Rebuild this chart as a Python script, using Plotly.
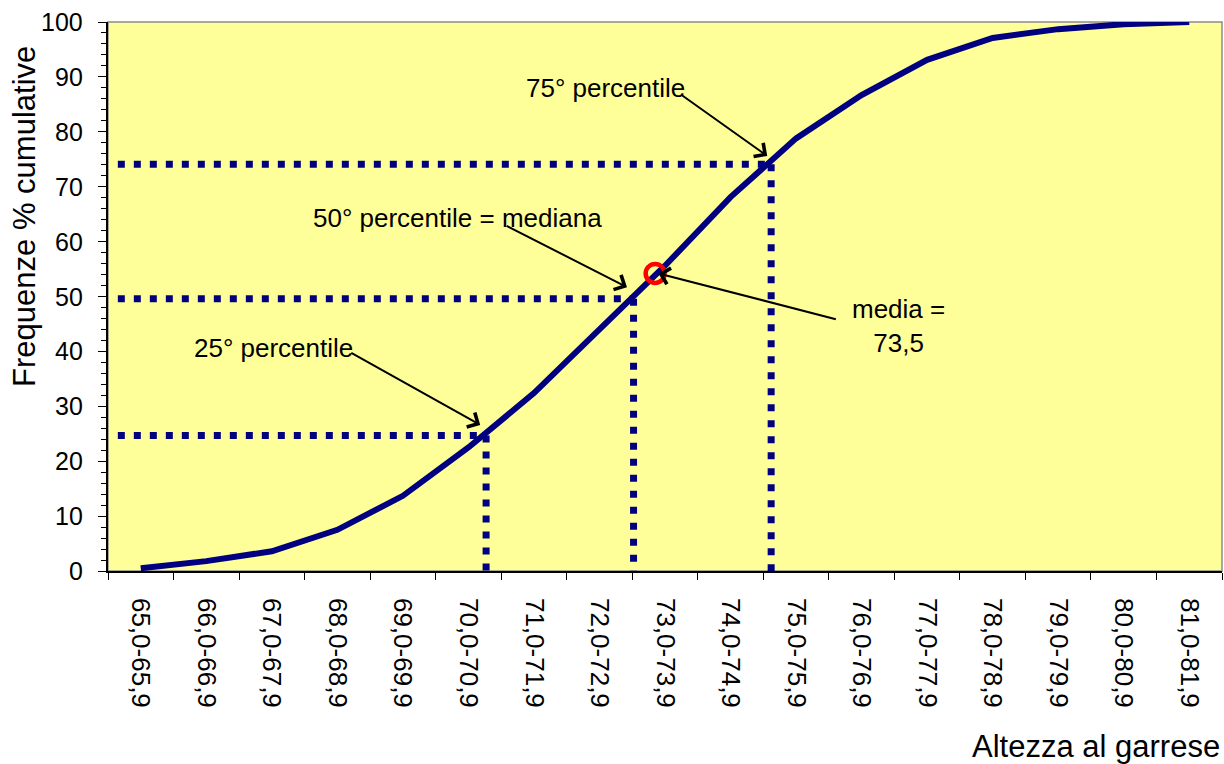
import plotly.graph_objects as go

# ---- data ----
categories = ["65,0-65,9", "66,0-66,9", "67,0-67,9", "68,0-68,9", "69,0-69,9",
              "70,0-70,9", "71,0-71,9", "72,0-72,9", "73,0-73,9", "74,0-74,9",
              "75,0-75,9", "76,0-76,9", "77,0-77,9", "78,0-78,9", "79,0-79,9",
              "80,0-80,9", "81,0-81,9"]
cum_freq = [0.5, 1.8, 3.6, 7.5, 13.7, 22.5, 32.4, 43.9, 55.6, 68.1,
            78.8, 86.7, 93.1, 97.1, 98.7, 99.6, 100.0]

percentile_levels = [24.7, 49.6, 74.1]          # y of dotted guides
percentile_pos = [5.27, 7.52, 9.62]              # category-index position where they meet the curve
guide_start = -0.35

mean_pos = 7.85
mean_val = 54.2

y_ticks = list(range(0, 101, 10))
y_tick_labels = [str(v) for v in y_ticks]

NAVY = "#000080"
FONT = "Liberation Sans, Arial, sans-serif"

fig = go.Figure()

fig.add_trace(go.Scatter(
    x=categories, y=cum_freq, mode="lines",
    line=dict(color=NAVY, width=6), showlegend=False, hoverinfo="skip"))

# dotted guide lines
for lvl, pos in zip(percentile_levels, percentile_pos):
    fig.add_shape(type="line", xref="x", yref="y", x0=guide_start, x1=pos, y0=lvl, y1=lvl,
                  line=dict(color=NAVY, width=7, dash="7px,9px"), layer="above")
    fig.add_shape(type="line", xref="x", yref="y", x0=pos, x1=pos, y0=lvl, y1=0,
                  line=dict(color=NAVY, width=7, dash="7px,9px"), layer="above")

# mean marker (red ring)
fig.add_shape(type="circle", xref="x", yref="y", xsizemode="pixel", ysizemode="pixel",
              xanchor=mean_pos, yanchor=mean_val, x0=-9.5, x1=9.5, y0=-9.5, y1=9.5,
              line=dict(color="#FF0000", width=4.5), fillcolor="rgba(0,0,0,0)", layer="above")

# arrows: (tail_x, tail_y, tip_x, tip_y)
arrows = [
    (8.23, 86.9, 9.56, 75.6),
    (5.56, 63.0, 7.42, 51.7),
    (3.19, 39.9, 5.18, 26.6),
    (10.63, 45.8, 7.90, 54.2),
]
for tx, ty, hx, hy in arrows:
    fig.add_annotation(x=hx, y=hy, ax=tx, ay=ty, xref="x", yref="y", axref="x", ayref="y",
                       text="", showarrow=True, arrowhead=4, arrowsize=1.6, arrowwidth=2,
                       arrowcolor="black")

# labels
labels = [
    ("75° percentile", 7.09, 88.0),
    ("50° percentile = mediana", 4.84, 64.3),
    ("25° percentile", 2.03, 40.6),
    ("media =<br>73,5", 11.56, 44.7),
]
for txt, lx, ly in labels:
    fig.add_annotation(x=lx, y=ly, xref="x", yref="y", text=txt, showarrow=False,
                       font=dict(family=FONT, size=26, color="black"),
                       xanchor="center", yanchor="middle", align="center")

# y tick labels (placed on the y scale, offset from the axis)
for v, t in zip(y_ticks, y_tick_labels):
    fig.add_annotation(x=0, y=v, xref="paper", yref="y", text=t, showarrow=False,
                       font=dict(family=FONT, size=25, color="black"),
                       xanchor="right", yanchor="middle", xshift=-23)

# axis titles
fig.add_annotation(x=-0.0745, y=0.645, xref="paper", yref="paper", text="Frequenze % cumulative",
                   textangle=-90, showarrow=False, font=dict(family=FONT, size=31, color="black"),
                   xanchor="center", yanchor="middle")
fig.add_annotation(x=1.0, y=-0.319, xref="paper", yref="paper", text="Altezza al garrese",
                   showarrow=False, font=dict(family=FONT, size=31, color="black"),
                   xanchor="right", yanchor="middle")

# plot border
fig.add_shape(type="rect", xref="paper", yref="paper", x0=0, x1=1, y0=0, y1=1,
              line=dict(color="#8C8C8C", width=1.5), layer="below")

fig.update_layout(
    width=1224, height=764,
    margin=dict(l=108, r=2, t=22, b=193),
    paper_bgcolor="white", plot_bgcolor="#FFFF99",
    font=dict(family=FONT, color="black"),
    showlegend=False,
)
fig.update_xaxes(
    type="category", categoryorder="array", categoryarray=categories,
    range=[-0.5, len(categories) - 0.5],
    tickson="boundaries", ticks="outside", ticklen=7, tickcolor="black", tickwidth=1,
    tickangle=90, tickfont=dict(family=FONT, size=26, color="black"),
    showline=True, linecolor="black", linewidth=1.5, showgrid=False, zeroline=False,
    ticklabelstandoff=20,
)
fig.update_yaxes(
    range=[0, 100], tickvals=y_ticks, ticks="outside", ticklen=8, tickcolor="black",
    showticklabels=False,
    showline=True, linecolor="black", linewidth=1.5, showgrid=False, zeroline=False,
    minor=dict(dtick=2, ticks="outside", ticklen=5, tickcolor="black", showgrid=False),
)

fig.write_html("out.html")
